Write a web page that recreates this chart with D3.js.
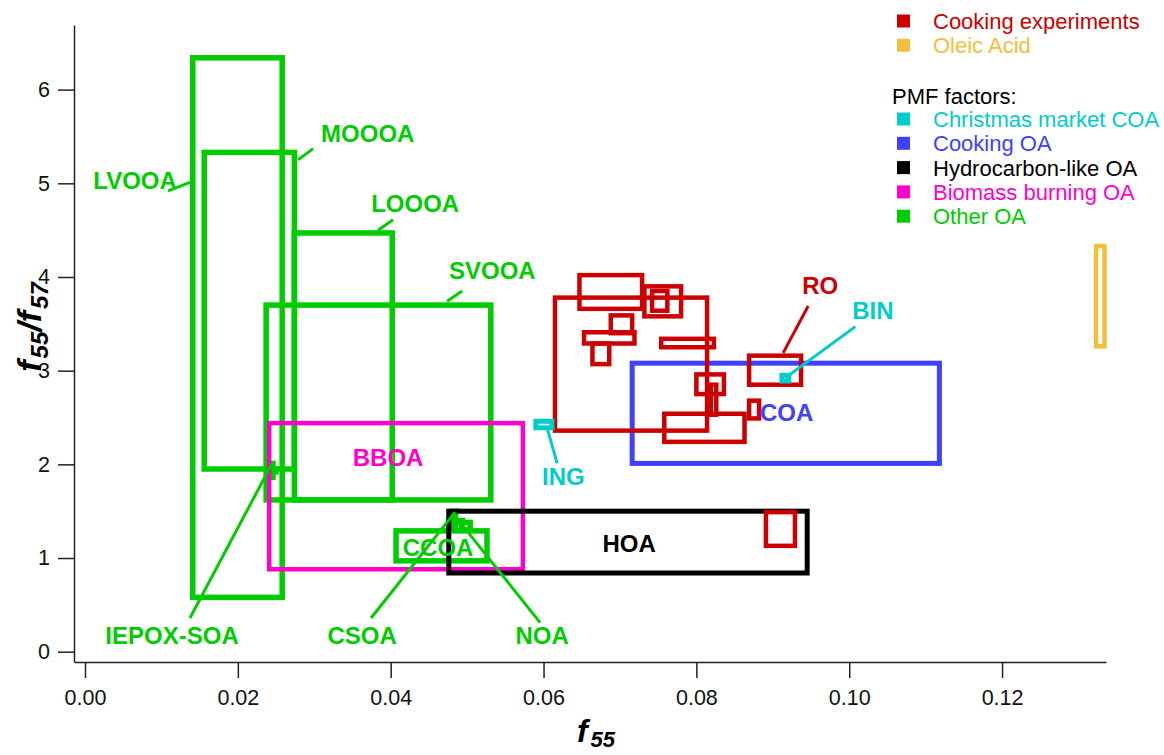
<!DOCTYPE html>
<html>
<head>
<meta charset="utf-8">
<script src="https://cdn.jsdelivr.net/npm/d3@7"></script>
<style>
  body { margin: 0; background: #fff; }
  #chart { width: 1164px; height: 755px; }
  text { font-family: Arial, "Liberation Sans", sans-serif; }
</style>
</head>
<body>
<div id="chart"></div>
<script>
// axis ticks
const xTicks = [0, 0.02, 0.04, 0.06, 0.08, 0.10, 0.12]
const yTicks = [0, 1, 2, 3, 4, 5, 6]

// boxes as [x0, x1, y0, y1] (f55 range, f55/f57 range)
const cookingBoxes = [
    [0.0615, 0.0814, 2.36, 3.78],
    [0.0647, 0.0729, 3.66, 4.02],
    [0.0732, 0.0780, 3.58, 3.90],
    [0.0742, 0.0762, 3.64, 3.85],
    [0.0688, 0.0716, 3.40, 3.59],
    [0.0653, 0.0719, 3.29, 3.41],
    [0.0664, 0.0686, 3.07, 3.29],
    [0.0754, 0.0823, 3.25, 3.34],
    [0.0800, 0.0836, 2.75, 2.96],
    [0.0819, 0.0826, 2.53, 2.85],
    [0.0758, 0.0863, 2.24, 2.54],
    [0.0869, 0.0882, 2.49, 2.68],
    [0.0869, 0.0937, 2.85, 3.16],
    [0.0891, 0.0929, 1.13, 1.49]
]
const oleicBoxes = [
    [0.1323, 0.1334, 3.26, 4.33]
]
const xmasBoxes = [
    [0.0590, 0.0611, 2.39, 2.46],   // ING
    [0.0912, 0.0921, 2.89, 2.95]    // BIN
]
const cookingOABoxes = [
    [0.0716, 0.1118, 2.01, 3.08]    // COA
]
const hoaBoxes = [
    [0.0476, 0.0945, 0.84, 1.50]    // HOA
]
const bboaBoxes = [
    [0.0241, 0.0573, 0.88, 2.44]    // BBOA
]
const otherBoxes = [
    [0.0141, 0.0258, 0.58, 6.34],   // LVOOA
    [0.0156, 0.0274, 1.95, 5.33],   // MOOOA
    [0.0274, 0.0402, 1.62, 4.47],   // LOOOA
    [0.0237, 0.0531, 1.62, 3.70],   // SVOOA
    [0.0407, 0.0526, 0.97, 1.29],   // CCOA
    [0.0240, 0.0246, 1.86, 2.01],   // IEPOX-SOA
    [0.0238, 0.0250, 1.92, 1.95],
    [0.0481, 0.0485, 1.30, 1.50],   // CSOA
    [0.0476, 0.0494, 1.38, 1.40],
    [0.0493, 0.0504, 1.30, 1.38]    // NOA
]

// annotations: [text, group, x, y, leader x1, y1, x2, y2] in data units
const labels = [
    ["LVOOA", "other", 0.00655, 5.03, 0.01086, 4.92, 0.01374, 5.01],
    ["MOOOA", "other", 0.0370, 5.53, 0.02788, 5.25, 0.02984, 5.37],
    ["LOOOA", "other", 0.0432, 4.79, 0.03835, 4.50, 0.04031, 4.61],
    ["SVOOA", "other", 0.0533, 4.07, 0.04738, 3.74, 0.04935, 3.85],
    ["IEPOX-SOA", "other", 0.01139, 0.17, 0.01374, 0.36, 0.02448, 2.01],
    ["CSOA", "other", 0.03626, 0.17, 0.03743, 0.36, 0.04843, 1.49],
    ["NOA", "other", 0.05982, 0.17, 0.05955, 0.31, 0.04908, 1.38],
    ["CCOA", "other", 0.0462, 1.11],
    ["BBOA", "bboa", 0.03966, 2.07],
    ["HOA", "hoa", 0.0712, 1.16],
    ["COA", "coa", 0.0918, 2.55],
    ["ING", "xmas", 0.0626, 1.87, 0.06047, 2.39, 0.06178, 2.01],
    ["RO", "cooking", 0.0962, 3.91, 0.09463, 3.69, 0.09136, 3.19],
    ["BIN", "xmas", 0.1031, 3.64, 0.1008, 3.47, 0.09175, 2.93]
]

const legendTop = [["cooking", "Cooking experiments"], ["oleic", "Oleic Acid"]]
const legendPmf = [
    ["xmas", "Christmas market COA"],
    ["coa", "Cooking OA"],
    ["hoa", "Hydrocarbon-like OA"],
    ["bboa", "Biomass burning OA"],
    ["other", "Other OA"]
]

const color = d3.scaleOrdinal()
    .domain(["cooking", "oleic", "xmas", "coa", "hoa", "bboa", "other"])
    .range(["#cc0000", "#f2be3c", "#00cccc", "#4040ff", "#000000", "#ff00cc", "#00cc00"])

width = 1164
height = 755

const x = d3.scaleLinear().domain([-0.00144, 0.1336]).range([74, 1106])
const y = d3.scaleLinear().domain([-0.11, 6.69]).range([662, 25])

let svg = d3.select("#chart")
.append("svg")
.attr("width", width)
.attr("height", height)

// axes
const xAxis = svg.append("g")
    .attr("transform", `translate(0,${y.range()[0]})`)
    .call(d3.axisBottom(x).tickValues(xTicks).tickFormat(d3.format(".2f")).tickSize(16).tickSizeOuter(0).tickPadding(12))
const yAxis = svg.append("g")
    .attr("transform", `translate(${x.range()[0]},0)`)
    .call(d3.axisLeft(y).tickValues(yTicks).tickFormat(d3.format("d")).tickSize(16).tickSizeOuter(0).tickPadding(8))

svg.selectAll(".domain, .tick line").attr("stroke", "#222").attr("stroke-width", 1.5)
svg.selectAll(".tick text").attr("font-size", 21.5).attr("fill", "#111")
    .attr("font-family", "Arial, 'Liberation Sans', sans-serif")

// boxes, drawn in the order of the original figure
function drawBoxes(data, group, sw) {
    svg.append("g")
        .selectAll("rect")
        .data(data)
        .join("rect")
        .attr("x", d => x(d[0]))
        .attr("y", d => y(d[3]))
        .attr("width", d => x(d[1]) - x(d[0]))
        .attr("height", d => y(d[2]) - y(d[3]))
        .attr("fill", "none")
        .attr("stroke", color(group))
        .attr("stroke-width", sw)
}

drawBoxes(otherBoxes, "other", 5.5)
drawBoxes(bboaBoxes, "bboa", 4.5)
drawBoxes(hoaBoxes, "hoa", 5)
drawBoxes(cookingOABoxes, "coa", 5)
drawBoxes(cookingBoxes, "cooking", 4.5)
drawBoxes(oleicBoxes, "oleic", 4.5)
drawBoxes(xmasBoxes, "xmas", 5)

// leader lines + labels
const lead = labels.filter(d => d.length > 4)
svg.append("g")
    .selectAll("line")
    .data(lead)
    .join("line")
    .attr("x1", d => x(d[4]))
    .attr("y1", d => y(d[5]))
    .attr("x2", d => x(d[6]))
    .attr("y2", d => y(d[7]))
    .attr("stroke", d => color(d[1]))
    .attr("stroke-width", 3)

svg.append("g")
    .selectAll("text")
    .data(labels)
    .join("text")
    .attr("x", d => x(d[2]))
    .attr("y", d => y(d[3]))
    .attr("dy", "0.36em")
    .attr("text-anchor", "middle")
    .attr("font-size", 24)
    .attr("font-weight", "bold")
    .attr("fill", d => color(d[1]))
    .text(d => d[0])

// axis titles
const xt = svg.append("text")
    .attr("x", 596)
    .attr("y", 742)
    .attr("text-anchor", "middle")
    .attr("font-weight", "bold")
    .attr("font-style", "italic")
    .attr("font-size", 32)
xt.append("tspan").text("f")
xt.append("tspan").attr("font-size", 22).attr("dy", 5).attr("dx", 3).text("55")

const yt = svg.append("text")
    .attr("transform", "translate(41,327) rotate(-90)")
    .attr("text-anchor", "middle")
    .attr("font-weight", "bold")
    .attr("font-style", "italic")
    .attr("font-size", 34)
yt.append("tspan").text("f")
yt.append("tspan").attr("font-size", 24).attr("dy", 7).attr("dx", 2).text("55")
yt.append("tspan").attr("dy", -7).text("/f")
yt.append("tspan").attr("font-size", 24).attr("dy", 7).attr("dx", 2).text("57")

// legend
const legend = svg.append("g").attr("font-size", 22)
function legendRows(rows, top) {
    const g = legend.append("g")
    g.selectAll("rect")
        .data(rows)
        .join("rect")
        .attr("x", 897)
        .attr("y", (d, i) => top + i * 24.3 - 6.5)
        .attr("width", 13)
        .attr("height", 13)
        .attr("fill", d => color(d[0]))
    g.selectAll("text")
        .data(rows)
        .join("text")
        .attr("x", 933)
        .attr("y", (d, i) => top + i * 24.3)
        .attr("dy", "0.36em")
        .attr("fill", d => color(d[0]))
        .text(d => d[1])
}
legendRows(legendTop, 21)
legend.append("text")
    .attr("x", 892)
    .attr("y", 96)
    .attr("dy", "0.36em")
    .attr("fill", "#000")
    .text("PMF factors:")
legendRows(legendPmf, 119)
</script>
</body>
</html>
